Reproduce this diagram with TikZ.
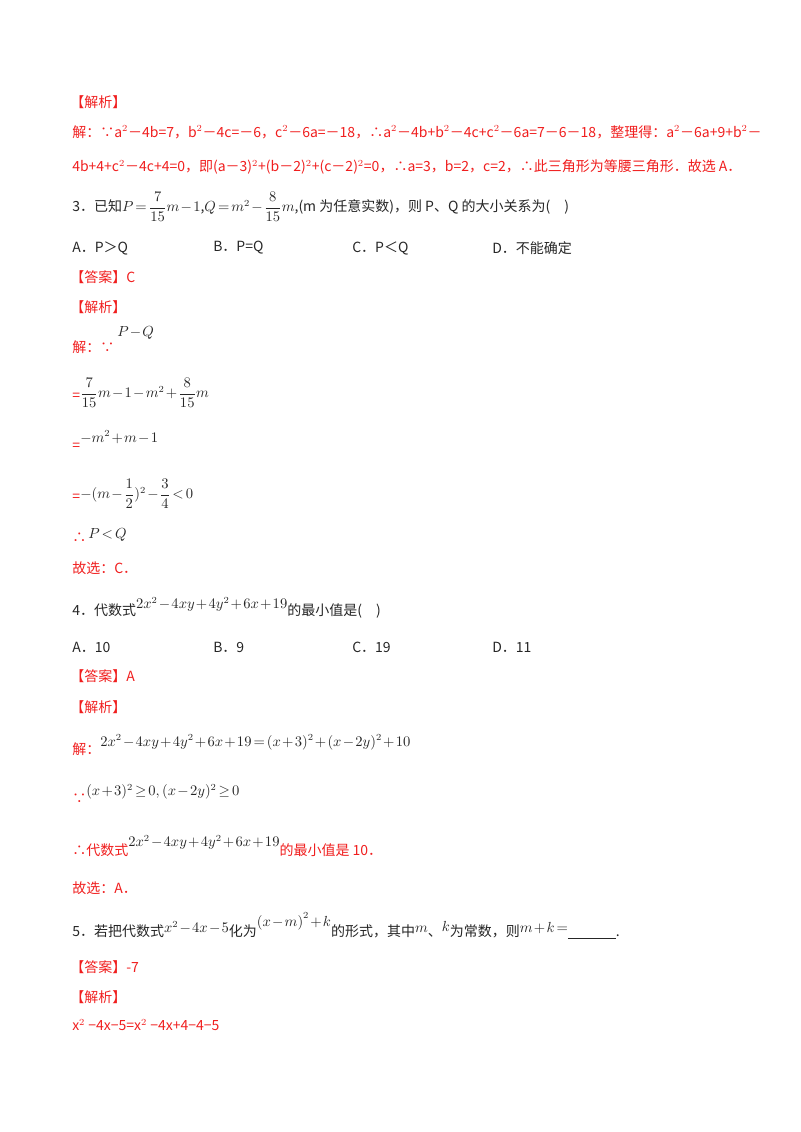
\documentclass[tikz,border=0pt]{standalone}
\usepackage{fontspec}
\setmainfont{Noto Sans CJK SC}
\setsansfont{Noto Sans CJK SC}
\usepackage{amsmath}
\definecolor{rd}{RGB}{240,30,30}
\definecolor{tx}{RGB}{38,38,38}
\newcommand{\vi}[1]{\textit{#1}}
\newcommand{\mr}[2]{\raisebox{#1}{\color{tx}$#2$}}
\medmuskip=1.5mu \thickmuskip=2.5mu
\begin{document}
\begin{tikzpicture}[x=0.75pt,y=-0.75pt,
  t/.style={anchor=west,inner sep=0pt,font=\fontsize{10.5}{12}\selectfont},
  r/.style={t,text=rd},
  b/.style={t,text=tx}]
\useasboundingbox (0,0) rectangle (800,1132);
\node[r] (h1) at (70,102) {【解析】};
\node[r] (l1) at (72,132) {解：∵\vi{a}$^2$－4\vi{b}=7，\vi{b}$^2$－4\vi{c}=－6，\vi{c}$^2$－6\vi{a}=－18，∴\vi{a}$^2$－4\vi{b}+\vi{b}$^2$－4\vi{c}+\vi{c}$^2$－6\vi{a}=7－6－18，整理得：\vi{a}$^2$－6\vi{a}+9+\vi{b}$^2$－};
\node[r] (l2) at (72,167) {4\vi{b}+4+\vi{c}$^2$－4\vi{c}+4=0，即(\vi{a}－3)$^2$+(\vi{b}－2)$^2$+(\vi{c}－2)$^2$=0，∴\vi{a}=3，\vi{b}=2，\vi{c}=2，∴此三角形为等腰三角形．故选 A．};
\node[b] (q3) at (72,207) {3．已知$P=\dfrac{7}{15}m-1$,$Q=m^2-\dfrac{8}{15}m$,(\vi{m} 为任意实数)，则 \vi{P}、\vi{Q} 的大小关系为(\quad)};
\node[b] (a3) at (72,248) {A．\vi{P}＞\vi{Q}};
\node[b] (b3) at (213,248) {B．\vi{P}=\vi{Q}};
\node[b] (c3) at (352,248) {C．\vi{P}＜\vi{Q}};
\node[b] (d3) at (492,248) {D．不能确定};
\node[r] (ans3) at (70,277) {【答案】C};
\node[r] (h3) at (70,307) {【解析】};
\node[r] (s1) at (72,347) {解：∵};
\node[b] (s1m) at (117,333) {$P-Q$};
\node[r] (s2) at (72,397) {=};
\node[b] (s2m) at (80,393) {$\dfrac{7}{15}m-1-m^2+\dfrac{8}{15}m$};
\node[r] (s3) at (72,447) {=};
\node[b] (s3m) at (80,437) {$-m^2+m-1$};
\node[r] (s4) at (72,498) {=};
\node[b] (s4m) at (80,494) {$-(m-\dfrac{1}{2})^2-\dfrac{3}{4}<0$};
\node[r] (s5) at (72,538) {∴};
\node[b] (s5m) at (88,535) {$P<Q$};
\node[r] (s6) at (72,568) {故选：C．};
\node[b] (q4) at (72,608) {4．代数式\mr{5pt}{2x^2-4xy+4y^2+6x+19}的最小值是(\quad)};
\node[b] (a4) at (72,647) {A．10};
\node[b] (b4) at (213,647) {B．9};
\node[b] (c4) at (352,647) {C．19};
\node[b] (d4) at (492,647) {D．11};
\node[r] (ans4) at (70,676) {【答案】A};
\node[r] (h4) at (70,707) {【解析】};
\node[r] (j1) at (72,745) {解：\mr{6pt}{2x^2-4xy+4y^2+6x+19=(x+3)^2+(x-2y)^2+10}};
\node[r] (j2) at (72,794) {∵\mr{6pt}{(x+3)^2\ge0,(x-2y)^2\ge0}};
\node[r] (j3) at (72,846) {∴代数式\mr{7pt}{2x^2-4xy+4y^2+6x+19}的最小值是 10．};
\node[r] (j4) at (72,888) {故选：A．};
\node[b] (q5) at (72,926) {5．若把代数式\mr{3pt}{x^2-4x-5}化为\mr{8pt}{\left(x-m\right)^2+k}的形式，其中\mr{3pt}{m}、\mr{4pt}{k}为常数，则\mr{3pt}{m+k=}\underline{\hspace{36pt}}.};
\node[r] (ans5) at (70,967) {【答案】-7};
\node[r] (h5) at (70,997) {【解析】};
\node[r] (k1) at (72,1025) {x$^{2}$ −4x−5=x$^{2}$ −4x+4−4−5};
\end{tikzpicture}
\end{document}
